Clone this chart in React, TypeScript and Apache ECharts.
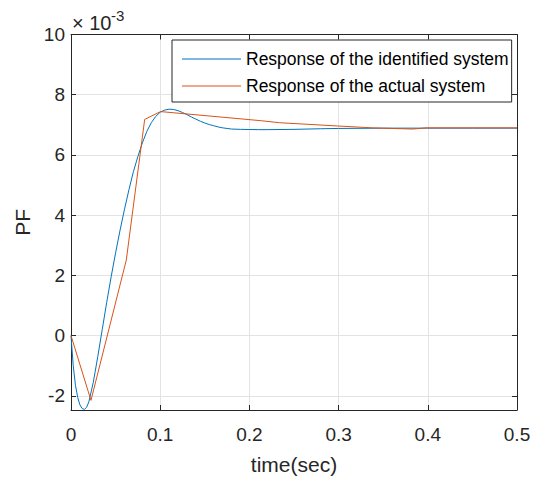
import React, { useEffect, useRef } from "react";
import * as echarts from "echarts";

const blueT = [0, 0.0025, 0.005, 0.0075, 0.01, 0.0125, 0.015, 0.0175, 0.02, 0.025, 0.03, 0.035, 0.04, 0.045, 0.05, 0.055, 0.06, 0.065, 0.07, 0.075, 0.08, 0.085, 0.09, 0.095, 0.1, 0.105, 0.11, 0.115, 0.12, 0.125, 0.13, 0.135, 0.14, 0.145, 0.15, 0.155, 0.16, 0.165, 0.17, 0.175, 0.18, 0.19, 0.2, 0.21, 0.22, 0.25, 0.28, 0.3, 0.35, 0.4, 0.45, 0.5];
const blueV = [0, -1.0, -1.65, -2.05, -2.3, -2.42, -2.45, -2.38, -2.2, -1.55, -0.7, 0.2, 1.1, 1.95, 2.75, 3.5, 4.2, 4.85, 5.45, 5.95, 6.4, 6.78, 7.07, 7.28, 7.42, 7.49, 7.52, 7.51, 7.47, 7.41, 7.34, 7.26, 7.19, 7.12, 7.06, 7.01, 6.97, 6.93, 6.9, 6.88, 6.86, 6.85, 6.845, 6.84, 6.84, 6.85, 6.87, 6.88, 6.89, 6.89, 6.89, 6.89];

const orangeT = [0, 0.0224, 0.062, 0.0826, 0.1004, 0.212, 0.234, 0.3, 0.338, 0.383, 0.398, 0.5];
const orangeV = [0, -2.15, 2.51, 7.18, 7.44, 7.14, 7.07, 6.96, 6.9, 6.86, 6.9, 6.9];

const yTicks = [-2, 0, 2, 4, 6, 8, 10];
const yMin = -2.47;
const yMax = 10;

const seriesNames = ["Response of the identified system", "Response of the actual system"];

export default function App() {
  const ref = useRef<HTMLDivElement>(null);
  useEffect(() => {
    if (!ref.current) return;
    const chart = echarts.init(ref.current, undefined, { renderer: "svg" });
    const font = "Liberation Sans, Arial, sans-serif";
    const textColor = "#262626";
    const axisLineStyle = { color: "#262626", width: 1 };
    const gridLine = { show: true, lineStyle: { color: "#e3e3e3", width: 1 } };
    chart.setOption({
      animation: false,
      backgroundColor: "#ffffff",
      textStyle: { fontFamily: font },
      grid: { left: 71, right: 17, top: 34.5, bottom: 70, containLabel: false },
      legend: {
        orient: "vertical",
        left: 172,
        top: 40,
        padding: [10, 3, 7, 10],
        itemGap: 9,
        itemWidth: 59,
        itemHeight: 14,
        backgroundColor: "#ffffff",
        borderColor: "#262626",
        borderWidth: 1,
        borderRadius: 0,
        textStyle: { fontSize: 17.5, color: "#000000", fontFamily: font },
        data: seriesNames.map((n) => ({ name: n, icon: "path://M0,0 L59,0 L59,1 L0,1 Z" })),
        itemStyle: { borderWidth: 0 },
      },
      xAxis: [
        {
          type: "value",
          min: 0,
          max: 0.5,
          interval: 0.1,
          name: "time(sec)",
          nameLocation: "middle",
          nameGap: 44,
          nameTextStyle: { fontSize: 21, color: textColor, fontFamily: font },
          axisLine: { show: true, onZero: false, lineStyle: axisLineStyle },
          axisTick: { show: true, inside: true, length: 5, lineStyle: axisLineStyle },
          axisLabel: { fontSize: 19, color: textColor, margin: 15, fontFamily: font },
          splitLine: gridLine,
        },
        {
          type: "value",
          position: "top",
          min: 0,
          max: 0.5,
          interval: 0.1,
          axisLine: { show: true, onZero: false, lineStyle: axisLineStyle },
          axisTick: { show: true, inside: true, length: 5, lineStyle: axisLineStyle },
          axisLabel: { show: false },
          splitLine: { show: false },
        },
      ],
      yAxis: [
        {
          type: "value",
          min: yMin,
          max: yMax,
          name: "PF",
          nameLocation: "middle",
          nameGap: 38,
          nameRotate: 90,
          nameTextStyle: { fontSize: 21, color: textColor, fontFamily: font },
          axisLine: { show: true, onZero: false, lineStyle: axisLineStyle },
          axisTick: { show: true, inside: true, length: 5, lineStyle: axisLineStyle, customValues: yTicks },
          axisLabel: { fontSize: 19, color: textColor, margin: 6, fontFamily: font, customValues: yTicks },
          splitLine: gridLine,
        },
        {
          type: "value",
          position: "right",
          min: yMin,
          max: yMax,
          axisLine: { show: true, onZero: false, lineStyle: axisLineStyle },
          axisTick: { show: true, inside: true, length: 5, lineStyle: axisLineStyle, customValues: yTicks },
          axisLabel: { show: false, customValues: yTicks },
          splitLine: { show: false },
        },
      ],
      graphic: [
        {
          type: "text",
          x: 72,
          y: 23,
          style: { text: "× 10", fontSize: 20, fill: textColor, fontFamily: font, verticalAlign: "middle", align: "left" },
        },
        {
          type: "text",
          x: 111,
          y: 15.5,
          style: { text: "-3", fontSize: 15, fill: textColor, fontFamily: font, verticalAlign: "middle", align: "left" },
        },
      ],
      series: [
        {
          name: seriesNames[0],
          type: "line",
          data: blueT.map((t, i) => [t, blueV[i]]),
          showSymbol: false,
          symbol: "none",
          smooth: false,
          color: "#0072BD",
          lineStyle: { color: "#0072BD", width: 1 },
          clip: true,
        },
        {
          name: seriesNames[1],
          type: "line",
          data: orangeT.map((t, i) => [t, orangeV[i]]),
          showSymbol: false,
          symbol: "none",
          color: "#D95319",
          lineStyle: { color: "#D95319", width: 1 },
          clip: true,
        },
      ],
    });
    return () => chart.dispose();
  }, []);
  return <div ref={ref} style={{ position: "fixed", left: 0, top: 0, width: 534, height: 480 }} />;
}
